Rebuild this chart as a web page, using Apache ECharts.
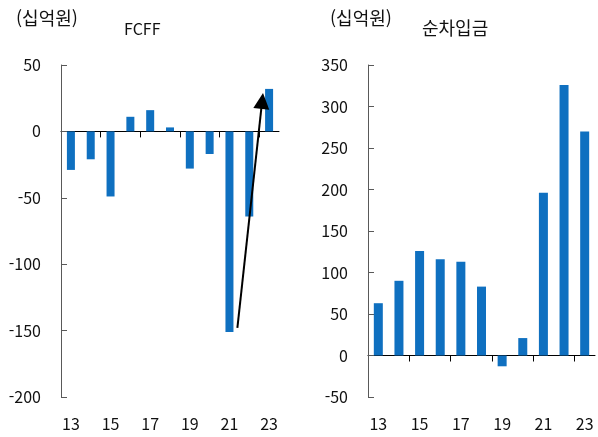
<!DOCTYPE html>
<html lang="ko">

<head>
  <meta charset="UTF-8" />
  <title>FCFF / 순차입금</title>
  <script src="https://cdn.jsdelivr.net/npm/echarts@6/dist/echarts.min.js"></script>
</head>

<body style="margin: 0; overflow: hidden;">
  <div id="panel" style="width: 598px; height: 437px;"></div>
  <script>
    var years = ['13', '14', '15', '16', '17', '18', '19', '20', '21', '22', '23'];
    var fcff = [-29, -21, -49, 11, 16, 3, -28, -17, -151, -64, 32];
    var netDebt = [63, 90, 126, 116, 113, 83, -13, 21, 196, 326, 270];
    var unitLabel = '(십억원)';
    // boundaries between categories that get a tick on the zero line
    var tickSlots = [2, 4, 6, 8, 10];
    // arrow annotation on the FCFF panel (x in category-slot units, y in 십억원)
    var arrowFrom = [8.9, -148];
    var arrowTo = [10.15, 23];

    var font = '"Noto Sans CJK KR", "Noto Sans", sans-serif';
    var barColor = '#0F70C0';
    var txt = { color: '#111', fontSize: 16, fontFamily: font };

    var myChart = echarts.init(document.getElementById('panel'));

    function zeroAxis(grid) {
      return {
        type: 'category', gridIndex: grid, data: years,
        axisLine: { onZero: true, onZeroAxisIndex: grid, lineStyle: { color: '#000', width: 1 } },
        axisTick: { show: false },
        axisLabel: { show: false }
      };
    }
    function labelAxis(grid) {
      return {
        type: 'category', gridIndex: grid, data: years, position: 'bottom',
        axisLine: { show: false, onZero: false },
        axisTick: { show: false },
        axisLabel: Object.assign({ interval: 1, margin: 19 }, txt)
      };
    }
    // slot axis: ticks on every second category boundary, also used for the arrow
    function slotAxis(grid) {
      return {
        type: 'value', gridIndex: grid, min: 0, max: years.length, interval: 1,
        splitLine: { show: false },
        axisLine: { show: true, onZero: true, onZeroAxisIndex: grid, lineStyle: { color: 'rgba(0,0,0,0)' } },
        axisTick: { show: true, inside: true, length: 6, customValues: tickSlots, lineStyle: { color: '#000' } },
        axisLabel: { show: false }
      };
    }
    function valAxis(grid, min, max) {
      return {
        type: 'value', gridIndex: grid, min: min, max: max, interval: 50,
        splitLine: { show: false },
        axisLine: { show: true, onZero: false, lineStyle: { color: '#595959' } },
        axisTick: { show: true, inside: true, length: 6, lineStyle: { color: '#595959' } },
        axisLabel: Object.assign({ margin: 20 }, txt)
      };
    }

    var titleStyle = function (size) {
      return { color: '#111', fontSize: size, fontWeight: 'normal', fontFamily: font };
    };

    var option = {
      animation: false,
      title: [
        { text: unitLabel, left: 11, top: 4, textStyle: titleStyle(18) },
        { text: 'FCFF', left: 119, top: 16, textStyle: titleStyle(16) },
        { text: unitLabel, left: 325, top: 4, textStyle: titleStyle(18) },
        { text: '순차입금', left: 417, top: 14, textStyle: titleStyle(18) }
      ],
      grid: [
        { left: 61, top: 65, width: 218, height: 332 },
        { left: 368, top: 65, width: 227, height: 332 }
      ],
      xAxis: [
        zeroAxis(0), zeroAxis(1), labelAxis(0), labelAxis(1),
        slotAxis(0), slotAxis(1)
      ],
      yAxis: [valAxis(0, -200, 50), valAxis(1, -50, 350)],
      series: [
        { type: 'bar', xAxisIndex: 0, yAxisIndex: 0, data: fcff, barWidth: 8, itemStyle: { color: barColor } },
        { type: 'bar', xAxisIndex: 1, yAxisIndex: 1, data: netDebt, barWidth: 9, itemStyle: { color: barColor } },
        {
          type: 'line', xAxisIndex: 4, yAxisIndex: 0, data: [], silent: true,
          markLine: {
            silent: true, symbol: ['none', 'triangle'], symbolSize: [16, 16],
            lineStyle: { color: '#000', width: 2, type: 'solid' },
            label: { show: false },
            data: [[{ coord: arrowFrom }, { coord: arrowTo }]]
          }
        }
      ]
    };

    myChart.setOption(option);
  </script>
</body>

</html>
